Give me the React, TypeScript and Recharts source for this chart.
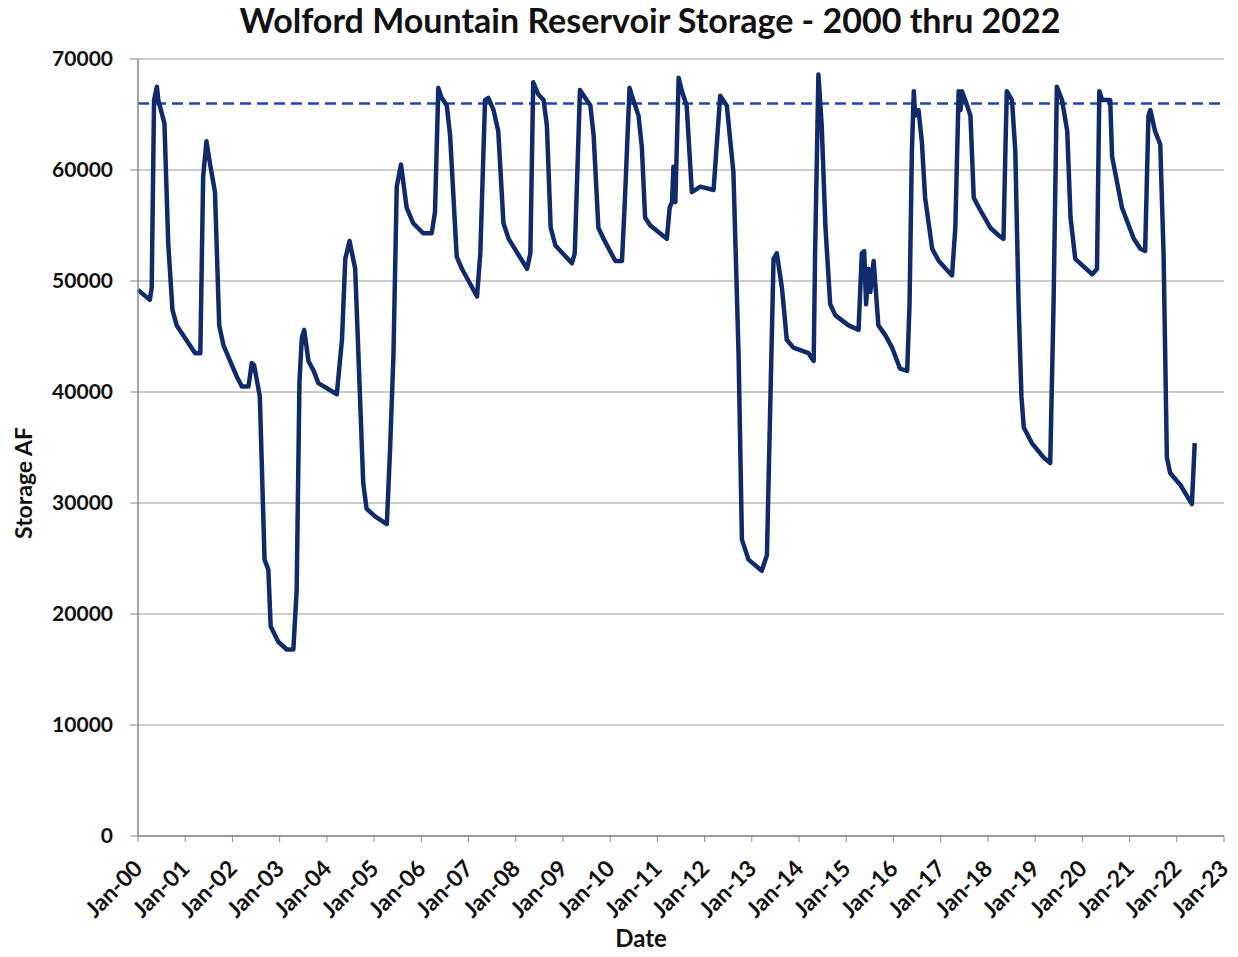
import React from 'react';
import {
  LineChart,
  Line,
  XAxis,
  YAxis,
  CartesianGrid,
  ReferenceLine,
} from 'recharts';

// decimal year of each reading
const dates = [
  2000.0, 2000.25, 2000.29, 2000.34, 2000.4, 2000.43, 2000.56, 2000.64, 2000.73, 2000.82,
  2001.21, 2001.32, 2001.38, 2001.45, 2001.52, 2001.63, 2001.72, 2001.81,
  2002.09, 2002.2, 2002.34, 2002.41, 2002.46, 2002.58, 2002.68, 2002.76, 2002.81, 2002.97,
  2003.15, 2003.29, 2003.36, 2003.42, 2003.47, 2003.52, 2003.61, 2003.72, 2003.82,
  2004.21, 2004.32, 2004.39, 2004.48, 2004.6, 2004.77, 2004.84,
  2005.02, 2005.27, 2005.34, 2005.41, 2005.48, 2005.57, 2005.69, 2005.83,
  2006.04, 2006.22, 2006.29, 2006.36, 2006.43, 2006.54, 2006.61, 2006.75, 2006.86,
  2007.18, 2007.25, 2007.35, 2007.42, 2007.53, 2007.63, 2007.74, 2007.85,
  2008.24, 2008.31, 2008.37, 2008.48, 2008.59, 2008.66, 2008.74, 2008.84,
  2009.19, 2009.25, 2009.36, 2009.47, 2009.58, 2009.65, 2009.75, 2009.86,
  2010.11, 2010.25, 2010.31, 2010.41, 2010.49, 2010.6, 2010.67, 2010.74, 2010.85,
  2011.2, 2011.26, 2011.31, 2011.34, 2011.38, 2011.45, 2011.52, 2011.62, 2011.73, 2011.91,
  2012.19, 2012.33, 2012.47, 2012.61, 2012.72, 2012.79, 2012.93,
  2013.21, 2013.32, 2013.39, 2013.46, 2013.53, 2013.64, 2013.74, 2013.88,
  2014.2, 2014.31, 2014.34, 2014.41, 2014.48, 2014.56, 2014.66, 2014.77,
  2015.05, 2015.26, 2015.33, 2015.38, 2015.42, 2015.47, 2015.51, 2015.58, 2015.68, 2015.83, 2015.97,
  2016.14, 2016.29, 2016.34, 2016.39, 2016.43, 2016.46, 2016.53, 2016.6, 2016.67, 2016.82, 2016.96,
  2017.24, 2017.31, 2017.38, 2017.42, 2017.45, 2017.52, 2017.63, 2017.7, 2017.81,
  2018.05, 2018.23, 2018.33, 2018.37, 2018.4, 2018.51, 2018.58, 2018.65, 2018.71, 2018.76, 2018.93,
  2019.18, 2019.32, 2019.39, 2019.46, 2019.57, 2019.68, 2019.75, 2019.85,
  2020.21, 2020.31, 2020.36, 2020.42, 2020.59, 2020.63, 2020.84,
  2021.09, 2021.23, 2021.33, 2021.4, 2021.44, 2021.54, 2021.65, 2021.72, 2021.79, 2021.86,
  2022.08, 2022.32, 2022.38,
];

// storage in acre-feet
const storage = [
  49200, 48300, 49400, 66300, 67500, 66300, 64200, 53400, 47400, 46000,
  43500, 43500, 59400, 62600, 60700, 58000, 46000, 44200,
  41400, 40500, 40500, 42600, 42400, 39600, 24900, 24000, 18900, 17500,
  16800, 16800, 22100, 41000, 44900, 45600, 42800, 41900, 40800,
  39800, 44700, 52000, 53600, 51100, 31800, 29500,
  28800, 28100, 35000, 43300, 58500, 60500, 56600, 55200,
  54300, 54300, 56200, 67400, 66500, 65800, 63100, 52200, 51100,
  48600, 52500, 66300, 66500, 65400, 63500, 55200, 53800,
  51100, 52500, 67900, 66800, 66300, 64000, 54800, 53200,
  51600, 52500, 67200, 66500, 65800, 63100, 54800, 53800,
  51800, 51800, 57100, 67400, 66300, 64900, 62100, 55700, 55000,
  53800, 56600, 57100, 60300, 57100, 68300, 67100, 65800, 58000, 58500,
  58200, 66700, 65800, 59800, 43300, 26700, 24900,
  23900, 25300, 38700, 52000, 52500, 49300, 44700, 44000,
  43500, 42800, 52500, 68600, 64000, 54800, 47900, 46900,
  46000, 45600, 52500, 52700, 47900, 51100, 49000, 51800, 46000, 45100, 44000,
  42100, 41900, 47900, 61700, 67100, 64900, 65400, 62600, 57500, 52900, 51800,
  50500, 54800, 67100, 65400, 67100, 66300, 64900, 57500, 56600,
  54800, 54100, 53800, 61700, 67100, 66300, 61700, 47900, 39600, 36800, 35400,
  34100, 33600, 47900, 67500, 66300, 63500, 55700, 52000,
  50600, 51100, 67100, 66300, 66300, 61200, 56600,
  53800, 52900, 52700, 64900, 65400, 63500, 62300, 52500, 34100, 32700,
  31600, 29900, 35400,
];

const capacity = 65985;

const yearTicks = [
  2000, 2001, 2002, 2003, 2004, 2005, 2006, 2007, 2008, 2009, 2010, 2011,
  2012, 2013, 2014, 2015, 2016, 2017, 2018, 2019, 2020, 2021, 2022, 2023,
];
const storageTicks = [0, 10000, 20000, 30000, 40000, 50000, 60000, 70000];

const chartData = dates.map((t, i) => ({ t, storage: storage[i] }));

const FONT = 'Lato, "Open Sans", sans-serif';

const DateTick: React.FC<any> = ({ x, y, payload }) => {
  const yy = String(payload.value % 100).padStart(2, '0');
  return (
    <g transform={`translate(${x + 6},${y + 26})`}>
      <text
        x={0}
        y={0}
        textAnchor="end"
        transform="rotate(-45)"
        fontFamily={FONT}
        fontWeight={700}
        fontSize={23}
        fill="#111"
      >
        {`Jan-${yy}`}
      </text>
    </g>
  );
};

const YTitle: React.FC<any> = () => (
  <text
    x={24}
    y={475}
    transform="rotate(-90, 24, 475)"
    textAnchor="middle"
    fontFamily={FONT}
    fontWeight={700}
    fontSize={23}
    fill="#111"
  >
    Storage AF
  </text>
);

const XTitle: React.FC<any> = () => (
  <text
    x={633}
    y={939}
    textAnchor="middle"
    fontFamily={FONT}
    fontWeight={700}
    fontSize={24}
    fill="#111"
  >
    Date
  </text>
);

const App: React.FC = () => {
  return (
    <div style={{ position: 'relative', width: 1230, height: 945, background: '#fff' }}>
      <div
        style={{
          position: 'absolute',
          top: -8,
          left: 0,
          width: 1284,
          textAlign: 'center',
          fontFamily: FONT,
          fontWeight: 700,
          fontSize: 34,
          lineHeight: 1.2,
          color: '#111',
          whiteSpace: 'nowrap',
        }}
      >
        Wolford Mountain Reservoir Storage - 2000 thru 2022
      </div>
      <LineChart
        width={1230}
        height={945}
        data={chartData}
        margin={{ top: 51, right: 14, left: 56, bottom: 25 }}
      >
        <CartesianGrid vertical={false} stroke="#9a9a9a" strokeWidth={1.2} />
        <XAxis
          dataKey="t"
          type="number"
          domain={[2000, 2023]}
          ticks={yearTicks}
          interval={0}
          tick={<DateTick />}
          tickLine={{ stroke: '#888' }}
          tickSize={6}
          axisLine={{ stroke: '#888', strokeWidth: 1.5 }}
          height={92}
          label={<XTitle />}
        />
        <YAxis
          domain={[0, 70000]}
          ticks={storageTicks}
          interval={0}
          width={74}
          tickSize={8}
          tickMargin={17}
          tickLine={{ stroke: '#888' }}
          axisLine={{ stroke: '#888', strokeWidth: 1.5 }}
          tick={{ fontFamily: FONT, fontWeight: 700, fontSize: 21, fill: '#111' }}
          label={<YTitle />}
        />
        <ReferenceLine
          y={capacity}
          stroke="#1f44b8"
          strokeWidth={2.5}
          strokeDasharray="11 6"
        />
        <Line
          type="linear"
          dataKey="storage"
          stroke="#112a6c"
          strokeWidth={4.5}
          strokeLinejoin="round"
          dot={false}
          isAnimationActive={false}
        />
      </LineChart>
    </div>
  );
};

export default App;
